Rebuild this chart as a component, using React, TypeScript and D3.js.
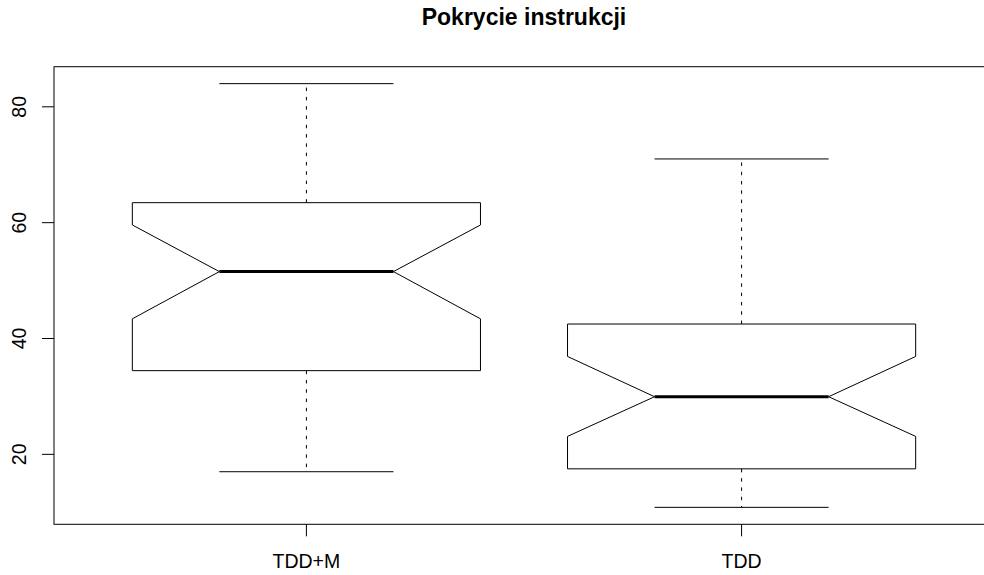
import React from "react";
import * as d3 from "d3";

const title = "Pokrycie instrukcji";
const categories = ["TDD+M", "TDD"];
const whiskerLow = [17, 10.85];
const q1 = [34.45, 17.5];
const median = [51.55, 29.95];
const q3 = [63.45, 42.5];
const whiskerHigh = [84, 71];
const notchLow = [43.4, 23.1];
const notchHigh = [59.6, 36.9];
const yTicks = [20, 40, 60, 80];

const W = 984;
const H = 575;
const plotLeft = 54;
const plotRight = 994;
const plotTop = 66.7;
const plotBottom = 524.3;
const FONT = "'Liberation Sans', Arial, Helvetica, sans-serif";

export default function App() {
  const n = categories.length;
  const x = d3
    .scaleLinear()
    .domain([0.5 - 0.04 * n, n + 0.5 + 0.04 * n])
    .range([plotLeft, plotRight]);
  const lo = d3.min(whiskerLow) as number;
  const hi = d3.max(whiskerHigh) as number;
  const pad = (hi - lo) * 0.04;
  const y = d3.scaleLinear().domain([lo - pad, hi + pad]).range([plotBottom, plotTop]);

  const halfBox = x(1.4) - x(1);
  const halfNotch = halfBox * 0.5;
  const halfCap = halfBox * 0.5;

  return (
    <svg
      width={W}
      height={H}
      style={{ position: "absolute", left: 0, top: 0, background: "#fff" }}
      fontFamily={FONT}
    >
      <rect x={0} y={0} width={W} height={H} fill="#fff" />
      <text x={(plotLeft + plotRight) / 2} y={25} textAnchor="middle" fontWeight="bold" fontSize={23}>
        {title}
      </text>
      {categories.map((c, i) => {
        const cx = x(i + 1);
        const x0 = cx - halfBox;
        const x1 = cx + halfBox;
        const pts: [number, number][] = [
          [x0, y(q1[i])],
          [x0, y(notchLow[i])],
          [cx - halfNotch, y(median[i])],
          [x0, y(notchHigh[i])],
          [x0, y(q3[i])],
          [x1, y(q3[i])],
          [x1, y(notchHigh[i])],
          [cx + halfNotch, y(median[i])],
          [x1, y(notchLow[i])],
          [x1, y(q1[i])],
        ];
        const line = d3.line();
        return (
          <g key={c}>
            <line x1={cx} x2={cx} y1={y(q3[i])} y2={y(whiskerHigh[i])} stroke="#000" strokeWidth={1} strokeDasharray="3.5,5.8" />
            <line x1={cx} x2={cx} y1={y(q1[i])} y2={y(whiskerLow[i])} stroke="#000" strokeWidth={1} strokeDasharray="3.5,5.8" />
            <line x1={cx - halfCap} x2={cx + halfCap} y1={y(whiskerHigh[i])} y2={y(whiskerHigh[i])} stroke="#000" strokeWidth={1} />
            <line x1={cx - halfCap} x2={cx + halfCap} y1={y(whiskerLow[i])} y2={y(whiskerLow[i])} stroke="#000" strokeWidth={1} />
            <path d={line(pts) + "Z"} fill="none" stroke="#000" strokeWidth={1} />
            <line x1={cx - halfNotch} x2={cx + halfNotch} y1={y(median[i])} y2={y(median[i])} stroke="#000" strokeWidth={3} />
            <line x1={cx} x2={cx} y1={plotBottom} y2={plotBottom + 12} stroke="#000" strokeWidth={1} />
            <text x={cx} y={568} textAnchor="middle" fontSize={19.5}>
              {c}
            </text>
          </g>
        );
      })}
      {yTicks.map((t) => (
        <g key={t}>
          <line x1={plotLeft - 12} x2={plotLeft} y1={y(t)} y2={y(t)} stroke="#000" strokeWidth={1} />
          <text transform={`translate(26,${y(t)}) rotate(-90)`} textAnchor="middle" fontSize={19.5}>
            {t}
          </text>
        </g>
      ))}
      <rect
        x={plotLeft}
        y={plotTop}
        width={plotRight - plotLeft}
        height={plotBottom - plotTop}
        fill="none"
        stroke="#000"
        strokeWidth={1}
      />
    </svg>
  );
}
